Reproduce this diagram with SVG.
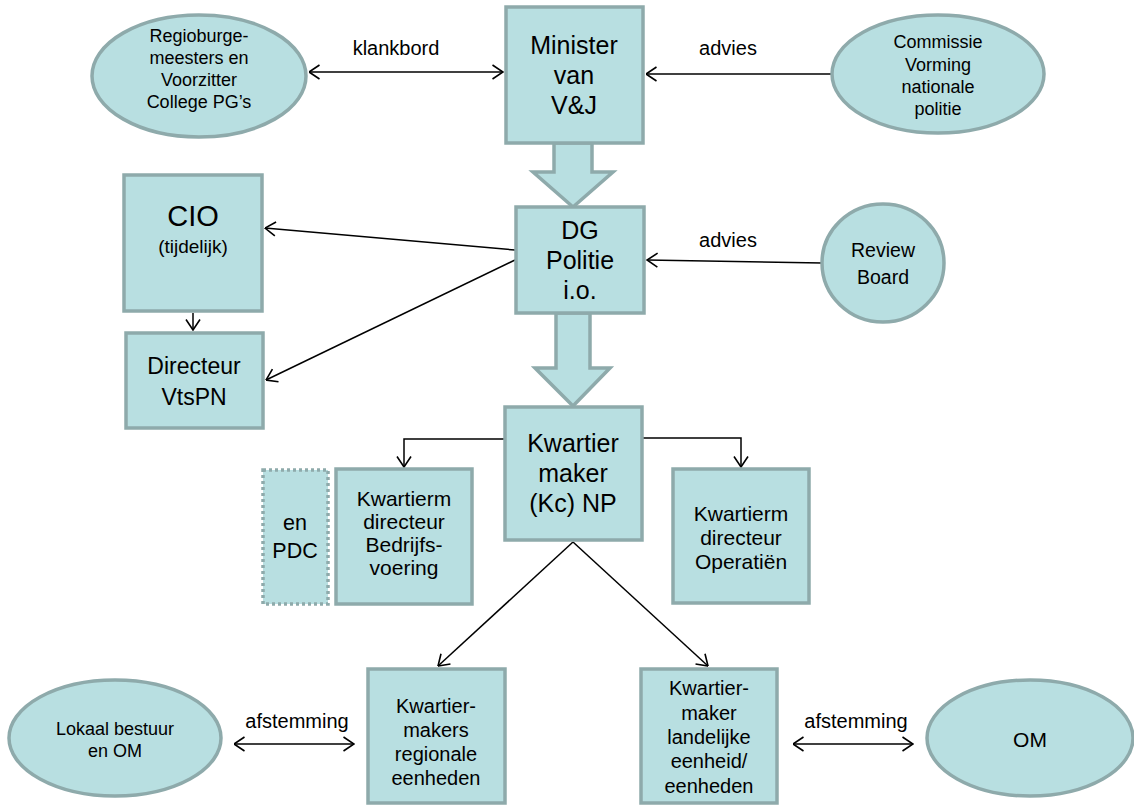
<svg xmlns="http://www.w3.org/2000/svg" width="1134" height="805" viewBox="0 0 1134 805">
<style>
.n{fill:#b8dfe1;stroke:#8eaaab;stroke-width:3.5}
.d{fill:#b8dfe1;stroke:#8eaaab;stroke-width:3.5;stroke-dasharray:3 3}
.c{fill:none;stroke:#000;stroke-width:1.5}
text{font-family:"Liberation Sans",Arial,sans-serif;fill:#000;text-anchor:middle}
</style>
<defs>
<marker id="a" viewBox="0 0 12 16" refX="11.5" refY="8" markerWidth="12" markerHeight="16" markerUnits="userSpaceOnUse" orient="auto-start-reverse">
<polyline points="1,1 11.5,8 1,15" fill="none" stroke="#000" stroke-width="1.6"/>
</marker>
</defs>
<rect width="1134" height="805" fill="#fff"/>
<g id="connectors">
<line class="c" x1="309" y1="72" x2="503" y2="72" marker-start="url(#a)" marker-end="url(#a)"/>
<line class="c" x1="832" y1="74" x2="646" y2="74" marker-end="url(#a)"/>
<line class="c" x1="822" y1="263" x2="647" y2="260" marker-end="url(#a)"/>
<line class="c" x1="515" y1="250" x2="265" y2="228" marker-end="url(#a)"/>
<line class="c" x1="515" y1="260" x2="266" y2="380" marker-end="url(#a)"/>
<line class="c" x1="193" y1="313" x2="193" y2="330" marker-end="url(#a)"/>
<polyline class="c" points="505,439 404,439 404,467" marker-end="url(#a)"/>
<polyline class="c" points="642,438 741,438 741,467" marker-end="url(#a)"/>
<line class="c" x1="573" y1="542" x2="438" y2="666" marker-end="url(#a)"/>
<line class="c" x1="573" y1="542" x2="708" y2="666" marker-end="url(#a)"/>
<line class="c" x1="234" y1="744" x2="354" y2="744" marker-start="url(#a)" marker-end="url(#a)"/>
<line class="c" x1="793" y1="744" x2="913" y2="744" marker-start="url(#a)" marker-end="url(#a)"/>
<polygon class="n" points="554,143 592,143 592,172 613,172 573,207 533,172 554,172"/>
<polygon class="n" points="556,313 590,313 590,368 610,368 573,406 535,368 556,368"/>
</g>
<g font-size="20">
<text x="396" y="55">klankbord</text>
<text x="728" y="55">advies</text>
<text x="728" y="247">advies</text>
<text x="297" y="728">afstemming</text>
<text x="856" y="728">afstemming</text>
</g>
<g id="regio">
<ellipse class="n" cx="199" cy="76" rx="107" ry="61"/>
<text font-size="18"><tspan x="199" y="42">Regioburge-</tspan><tspan x="199" y="64">meesters en</tspan><tspan x="199" y="86">Voorzitter</tspan><tspan x="199" y="108">College PG’s</tspan></text>
</g>
<g id="minister">
<rect class="n" x="506" y="7" width="137" height="136"/>
<text font-size="25"><tspan x="574" y="54">Minister</tspan><tspan x="574" y="84">van</tspan><tspan x="574" y="114">V&amp;J</tspan></text>
</g>
<g id="commissie">
<ellipse class="n" cx="938" cy="74" rx="106" ry="59"/>
<text font-size="18"><tspan x="938" y="48">Commissie</tspan><tspan x="938" y="71">Vorming</tspan><tspan x="938" y="93">nationale</tspan><tspan x="938" y="115">politie</tspan></text>
</g>
<g id="cio">
<rect class="n" x="124" y="175" width="138" height="136"/>
<text x="193" y="226" font-size="29">CIO</text>
<text x="193" y="253" font-size="19">(tijdelijk)</text>
</g>
<g id="directeur">
<rect class="n" x="126" y="333" width="137" height="95"/>
<text font-size="23"><tspan x="194" y="374">Directeur</tspan><tspan x="194" y="405">VtsPN</tspan></text>
</g>
<g id="dg">
<rect class="n" x="516" y="207" width="128" height="106"/>
<text font-size="25"><tspan x="580" y="239">DG</tspan><tspan x="580" y="269">Politie</tspan><tspan x="580" y="299">i.o.</tspan></text>
</g>
<g id="review">
<ellipse class="n" cx="883" cy="263" rx="61" ry="59"/>
<text font-size="19.5"><tspan x="883" y="257">Review</tspan><tspan x="883" y="284">Board</tspan></text>
</g>
<g id="kwartiermaker">
<rect class="n" x="505" y="407" width="137" height="133"/>
<text font-size="25"><tspan x="573" y="452">Kwartier</tspan><tspan x="573" y="482">maker</tspan><tspan x="573" y="512">(Kc) NP</tspan></text>
</g>
<g id="pdc">
<rect class="d" x="263" y="470" width="65" height="134"/>
<text font-size="21.5"><tspan x="295" y="530">en</tspan><tspan x="295" y="558">PDC</tspan></text>
</g>
<g id="bedrijfsvoering">
<rect class="n" x="336" y="469" width="136" height="135"/>
<text font-size="21"><tspan x="404" y="506">Kwartierm</tspan><tspan x="404" y="529">directeur</tspan><tspan x="404" y="552">Bedrijfs-</tspan><tspan x="404" y="575">voering</tspan></text>
</g>
<g id="operatien">
<rect class="n" x="673" y="469" width="136" height="134"/>
<text font-size="21"><tspan x="741" y="521">Kwartierm</tspan><tspan x="741" y="545">directeur</tspan><tspan x="741" y="569">Operatiën</tspan></text>
</g>
<g id="regionaal">
<rect class="n" x="368" y="669" width="137" height="134"/>
<text font-size="20"><tspan x="436" y="713">Kwartier-</tspan><tspan x="436" y="737">makers</tspan><tspan x="436" y="761">regionale</tspan><tspan x="436" y="785">eenheden</tspan></text>
</g>
<g id="landelijk">
<rect class="n" x="641" y="669" width="136" height="134"/>
<text font-size="20"><tspan x="709" y="695">Kwartier-</tspan><tspan x="709" y="720">maker</tspan><tspan x="709" y="744">landelijke</tspan><tspan x="709" y="768">eenheid/</tspan><tspan x="709" y="793">eenheden</tspan></text>
</g>
<g id="lokaal">
<ellipse class="n" cx="115" cy="738" rx="106" ry="58"/>
<text font-size="18"><tspan x="115" y="735">Lokaal bestuur</tspan><tspan x="115" y="757">en OM</tspan></text>
</g>
<g id="om">
<ellipse class="n" cx="1030" cy="738" rx="103" ry="58"/>
<text x="1030" y="747" font-size="21">OM</text>
</g>
</svg>
